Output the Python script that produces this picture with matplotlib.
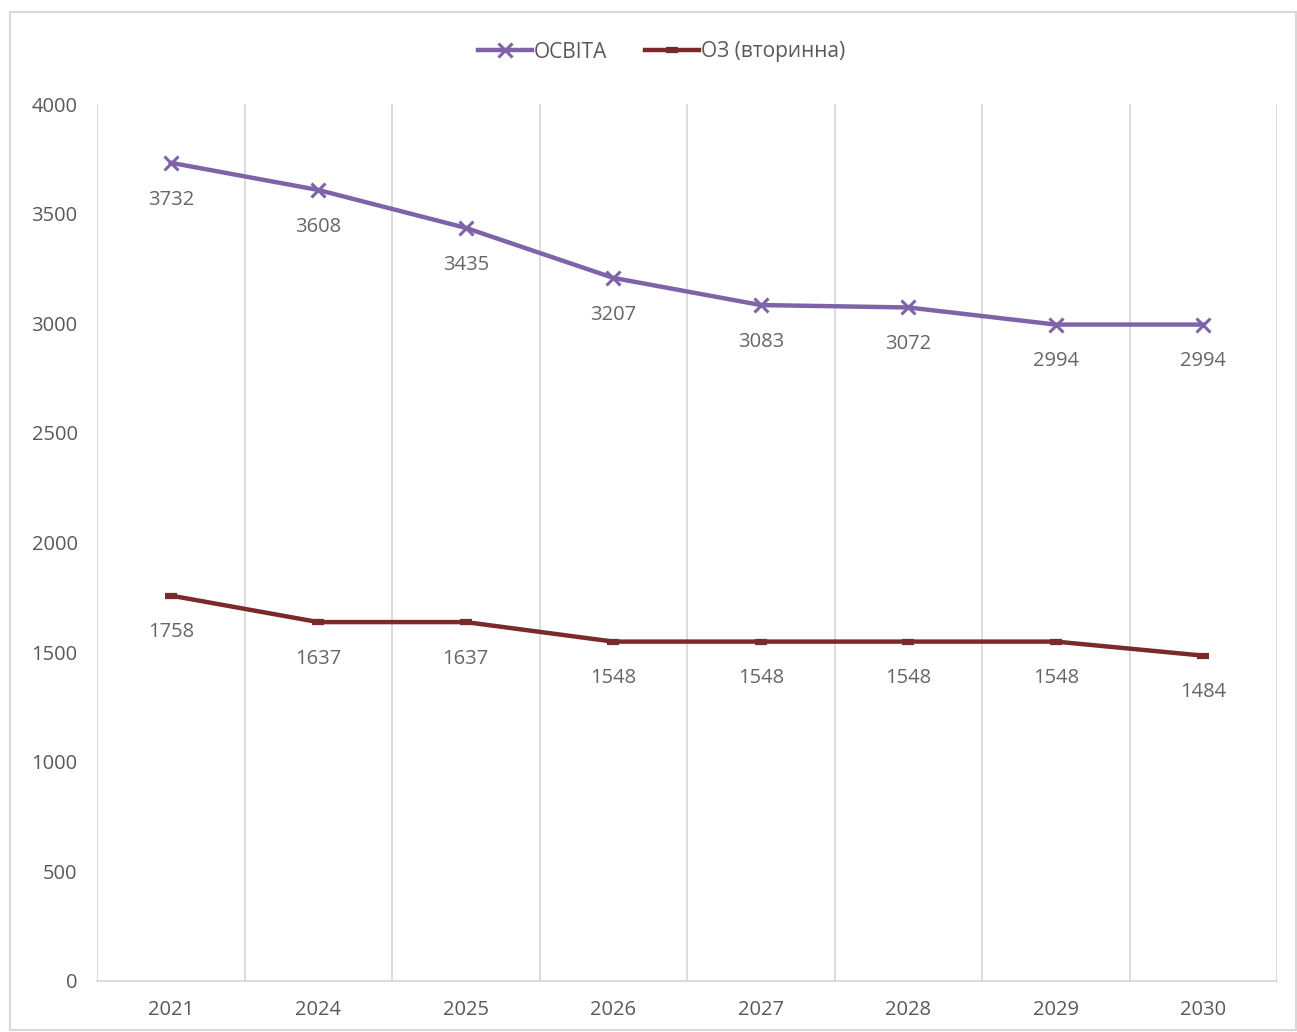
import matplotlib
matplotlib.use("Agg")
import matplotlib.pyplot as plt
from matplotlib.patches import Rectangle

years = ["2021", "2024", "2025", "2026", "2027", "2028", "2029", "2030"]
osvita = [3732, 3608, 3435, 3207, 3083, 3072, 2994, 2994]
oz = [1758, 1637, 1637, 1548, 1548, 1548, 1548, 1484]
series_names = ["ОСВІТА", "ОЗ (вторинна)"]

plt.rcParams['font.family'] = ['Open Sans', 'DejaVu Sans']

W, H = 1297, 1032
fig = plt.figure(figsize=(W / 100, H / 100), dpi=100)
fig.patches.append(Rectangle((10 / W, 2 / H), (W - 11) / W, (H - 14) / H,
                             transform=fig.transFigure, fill=False,
                             edgecolor="#d9d9d9", linewidth=1.5))

ax = fig.add_axes([97 / W, 1 - 981 / H, (1277 - 97) / W, (981 - 104) / H])
x = list(range(len(years)))
purple = "#7f63a8"
red = "#7a2a2a"
ax.plot(x, osvita, color=purple, lw=3.2, marker="x", markersize=10,
        markeredgewidth=2.2, label=series_names[0], zorder=3)
ax.plot(x, oz, color=red, lw=3.2, marker="_", markersize=9,
        markeredgewidth=4.5, label=series_names[1], zorder=3)

for xi, v in zip(x, osvita):
    ax.annotate(str(v), (xi, v), xytext=(0, -26.5), textcoords="offset points",
                ha="center", va="center", fontsize=14.5, color="#666666")
for xi, v in zip(x, oz):
    ax.annotate(str(v), (xi, v), xytext=(0, -26.5), textcoords="offset points",
                ha="center", va="center", fontsize=14.5, color="#666666")

ax.set_xlim(-0.5, len(years) - 0.5)
ax.set_ylim(0, 4000)
ax.set_yticks(range(0, 4001, 500))
ax.set_xticks(x)
ax.set_xticklabels(years)
for b in [i - 0.5 for i in range(len(years) + 1)]:
    ax.axvline(b, color="#d9d9d9", lw=1.3, zorder=0)
for s in ["top", "right", "left"]:
    ax.spines[s].set_visible(False)
ax.spines["bottom"].set_color("#d9d9d9")
ax.spines["bottom"].set_linewidth(1.3)
ax.tick_params(axis="both", length=0, labelsize=14.5, labelcolor="#595959")
ax.tick_params(axis="y", pad=14)
ax.tick_params(axis="x", pad=14)

leg = fig.legend(loc="center", bbox_to_anchor=(0.51, 1 - 52 / H), ncol=2,
                 frameon=False, fontsize=15, handlelength=2.6,
                 columnspacing=1.8, handletextpad=0.1, labelcolor="#595959")

fig.savefig("out.png", dpi=100)
